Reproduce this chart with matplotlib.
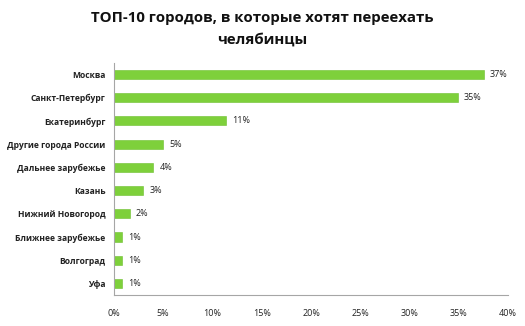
import matplotlib
matplotlib.use("Agg")
import matplotlib.pyplot as plt
from matplotlib.ticker import FuncFormatter

plt.rcParams['font.family'] = ['Open Sans', 'DejaVu Sans']

# data (top to bottom as in the chart)
cities = ['Москва', 'Санкт-Петербург', 'Екатеринбург', 'Другие города России',
          'Дальнее зарубежье', 'Казань', 'Нижний Новогород', 'Ближнее зарубежье',
          'Волгоград', 'Уфа']
shares = [37.5, 34.9, 11.4, 5.0, 4.0, 3.0, 1.6, 0.8, 0.8, 0.8]
labels = ['37%', '35%', '11%', '5%', '4%', '3%', '2%', '1%', '1%', '1%']
xticks = [0, 5, 10, 15, 20, 25, 30, 35, 40]

fig = plt.figure(figsize=(5.25, 3.26), dpi=100)
ax = fig.add_axes([0.217, 0.095, 0.751, 0.712])

ypos = list(range(len(cities)))[::-1]
ax.barh(ypos, shares, height=0.39, color='#7ED03B', edgecolor='#6DBF2E', linewidth=0.4)

for y, v, lab in zip(ypos, shares, labels):
    ax.text(v + 0.6, y, lab, va='center', ha='left', fontsize=6.5, color='#222222')

ax.set_xlim(0, 40)
ax.set_ylim(-0.5, len(cities) - 0.5)
ax.set_xticks(xticks)
ax.xaxis.set_major_formatter(FuncFormatter(lambda v, p: f'{v:.0f}%'))
ax.set_yticks(ypos)
ax.set_yticklabels(cities, fontweight='bold')
ax.tick_params(axis='x', length=0, pad=10, labelsize=6.5, colors='#222222')
ax.tick_params(axis='y', length=0, pad=6, labelsize=6.1, colors='#222222')

for s in ['top', 'right']:
    ax.spines[s].set_visible(False)
for s in ['left', 'bottom']:
    ax.spines[s].set_color('#A6A6A6')
    ax.spines[s].set_linewidth(0.8)

fig.text(0.5, 0.912, 'ТОП-10 городов, в которые хотят переехать\nчелябинцы',
         ha='center', va='center', fontsize=10.8, fontweight='bold',
         linespacing=1.7, color='#111111')

fig.savefig('out.png', dpi=100, facecolor='white')
